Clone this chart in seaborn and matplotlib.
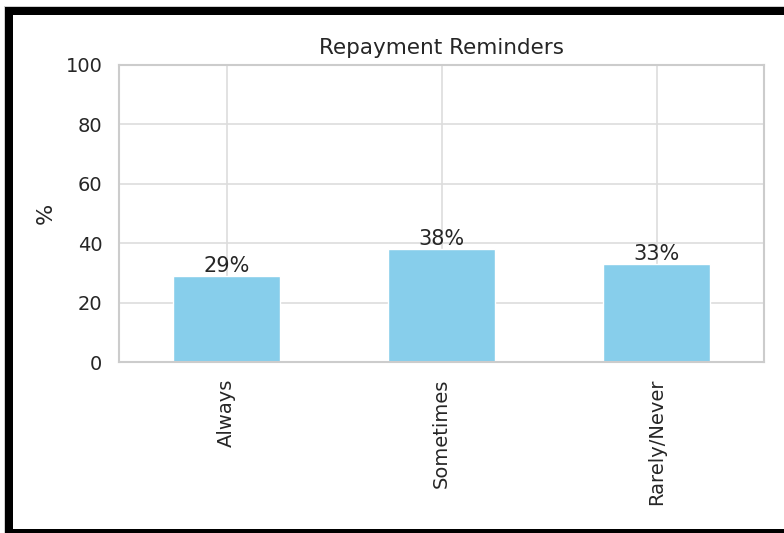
import matplotlib
matplotlib.use("Agg")
import matplotlib.pyplot as plt
from matplotlib.patches import Rectangle
import pandas as pd
import seaborn as sns

categories = ["Always", "Sometimes", "Rarely/Never"]
shares = [29, 38, 33]
y_ticks = [0, 20, 40, 60, 80, 100]

df = pd.DataFrame({"response": categories, "pct": shares})

sns.set_theme(style="whitegrid")
plt.rcParams["font.family"] = ["DejaVu Sans"]

W, H = 784, 533
fig = plt.figure(figsize=(W / 100, H / 100), dpi=100)
ax = fig.add_axes([119 / W, 1 - 362 / H, (764 - 119) / W, (362 - 65) / H])

sns.barplot(data=df, x="response", y="pct", color="skyblue", saturation=1,
            width=0.5, ax=ax)

ax.set_ylim(0, 100)
ax.set_xlim(-0.5, 2.5)
ax.set_yticks(y_ticks)
ax.tick_params(axis="y", labelsize=14, pad=6)
ax.tick_params(axis="x", labelsize=14, rotation=90, pad=6)
ax.set_xlabel("")
ax.set_ylabel("%", fontsize=16, labelpad=7)
ax.set_title("Repayment Reminders", fontsize=15.5, pad=8)
ax.grid(True, axis="both", color="#dddddd", linewidth=1.2)
ax.set_axisbelow(True)
for s in ax.spines.values():
    s.set_color("#cccccc")
    s.set_linewidth(1.5)
    s.set_visible(True)

for patch, v in zip(ax.patches, shares):
    ax.annotate(f"{v}%", (patch.get_x() + patch.get_width() / 2, v),
                ha="center", va="bottom", fontsize=15, color="#262626",
                xytext=(0, 0), textcoords="offset points")

# black frame on the left, top and bottom edges
def px_rect(x0, y0, x1, y1, color):
    fig.add_artist(Rectangle((x0 / W, 1 - y1 / H), (x1 - x0) / W, (y1 - y0) / H,
                             transform=fig.transFigure, color=color, lw=0))

px_rect(4, 6, W, 7, "#cfcfcf")
px_rect(4, 6, 5, H, "#cfcfcf")
px_rect(5, 7, W, 15, "black")
px_rect(5, 7, 13, H, "black")
px_rect(5, 529, W, H, "black")

fig.savefig("out.png", dpi=100)
